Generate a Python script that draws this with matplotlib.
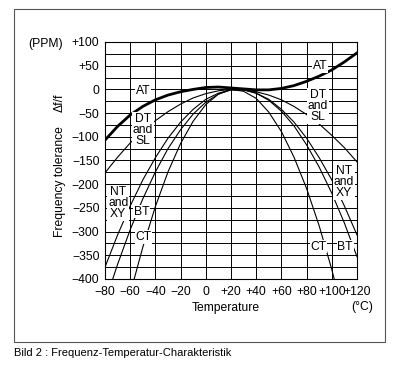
import matplotlib
matplotlib.use("Agg")
import matplotlib.pyplot as plt
from matplotlib.patches import Rectangle
from matplotlib.ticker import MultipleLocator

plt.rcParams['font.family'] = ['Liberation Sans', 'DejaVu Sans']

temps = [-80, -70, -60, -50, -40, -30, -20, -10, 0, 10, 20, 30, 40, 50, 60, 70, 80, 90, 100, 110, 120]
at_ppm = [-107, -78, -54, -36, -22, -12, -5, 0, 4, 5, 3, 1, -1, -1, 2, 8, 17, 28, 41, 58, 77]
dt_ppm = [-176, -143, -113, -88, -66, -47, -31, -18, -9, -3, 0, -1, -5, -12, -22, -36, -53, -73, -97, -123, -153]
nt_ppm = [-375, -307, -246, -191, -144, -103, -69, -42, -21, -8, -1, -1, -8, -21, -42, -69, -103, -144, -191, -246, -307]
bt_ppm = [-449, -369, -296, -231, -174, -125, -85, -52, -27, -10, -1, -1, -8, -23, -46, -77, -117, -164, -219, -282, -353]
ct_ppm = [-533, -518, -431, -333, -247, -174, -114, -67, -32, -10, 0, -4, -19, -48, -89, -143, -209, -288, -380, -485, -600]

xticks = [-80, -60, -40, -20, 0, 20, 40, 60, 80, 100, 120]
xticklabels = ['−80', '−60', '−40', '−20', '0', '+20', '+40', '+60', '+80', '+100', '+120']
yticks = [100, 50, 0, -50, -100, -150, -200, -250, -300, -350, -400]
yticklabels = ['+100', '+50', '0', '−50', '−100', '−150', '−200', '−250', '−300', '−350', '−400']

FS = 8.7

fig = plt.figure(figsize=(4.0, 3.67), dpi=100)
ax = fig.add_axes([0.2625, 0.2398, 0.63, 0.6458])

ax.set_xlim(-80, 120)
ax.set_ylim(-400, 100)
ax.set_xticks(xticks)
ax.set_xticklabels(xticklabels, fontsize=FS)
ax.set_yticks(yticks)
ax.set_yticklabels(yticklabels, fontsize=FS)
ax.yaxis.set_minor_locator(MultipleLocator(25))
ax.tick_params(which='both', length=0)
ax.tick_params(axis='x', pad=5)
ax.tick_params(axis='y', pad=4)
ax.grid(True, which='both', color='black', lw=0.7)
ax.set_axisbelow(True)
for s in ax.spines.values():
    s.set_color('black')
    s.set_linewidth(0.8)

ax.plot(temps, dt_ppm, color='black', lw=0.8, zorder=3)
ax.plot(temps, nt_ppm, color='black', lw=0.8, zorder=3)
ax.plot(temps, bt_ppm, color='black', lw=0.8, zorder=3)
ax.plot(temps, ct_ppm, color='black', lw=0.8, zorder=3)
ax.plot(temps, at_ppm, color='black', lw=2.0, zorder=4)

box = dict(facecolor='white', edgecolor='none', pad=0.5)
lab = dict(fontsize=FS, ha='center', va='center', bbox=box, zorder=6, linespacing=0.9)
ax.text(-50, -3, 'AT', **lab)
ax.text(90.5, 49, 'AT', **lab)
ax.text(-50, -85, 'DT\nand\nSL', **lab)
ax.text(89, -35, 'DT\nand\nSL', **lab)
ax.text(-69.5, -240, 'NT\nand\nXY', **lab)
ax.text(109.5, -196, 'NT\nand\nXY', **lab)
ax.text(-51, -258, 'BT', **lab)
ax.text(110.5, -332, 'BT', **lab)
ax.text(-49.5, -311, 'CT', **lab)
ax.text(89.5, -332, 'CT', **lab)

fig.text(46 / 400, 1 - 43.5 / 367, '(PPM)', fontsize=FS, ha='center', va='center')
fig.text(362 / 400, 1 - 307 / 367, '(°C)', fontsize=FS, ha='center', va='center')
fig.text(226 / 400, 1 - 308 / 367, 'Temperature', fontsize=FS, ha='center', va='center')
fig.text(60 / 400, 1 - 182 / 367, 'Frequency tolerance', fontsize=FS, ha='center', va='center', rotation=90)
fig.text(60 / 400, 1 - 103 / 367, 'Δf/f', fontsize=FS, ha='center', va='center', rotation=90)
fig.text(14 / 400, 1 - 353 / 367, 'Bild 2 : Frequenz-Temperatur-Charakteristik', fontsize=8, ha='left', va='center')

fig.patches.append(Rectangle((14 / 400, 1 - 342 / 367), (385 - 14) / 400, (342 - 9) / 367,
                             transform=fig.transFigure, fill=False, edgecolor='#555555', lw=0.8))

fig.savefig('out.png', dpi=100)
